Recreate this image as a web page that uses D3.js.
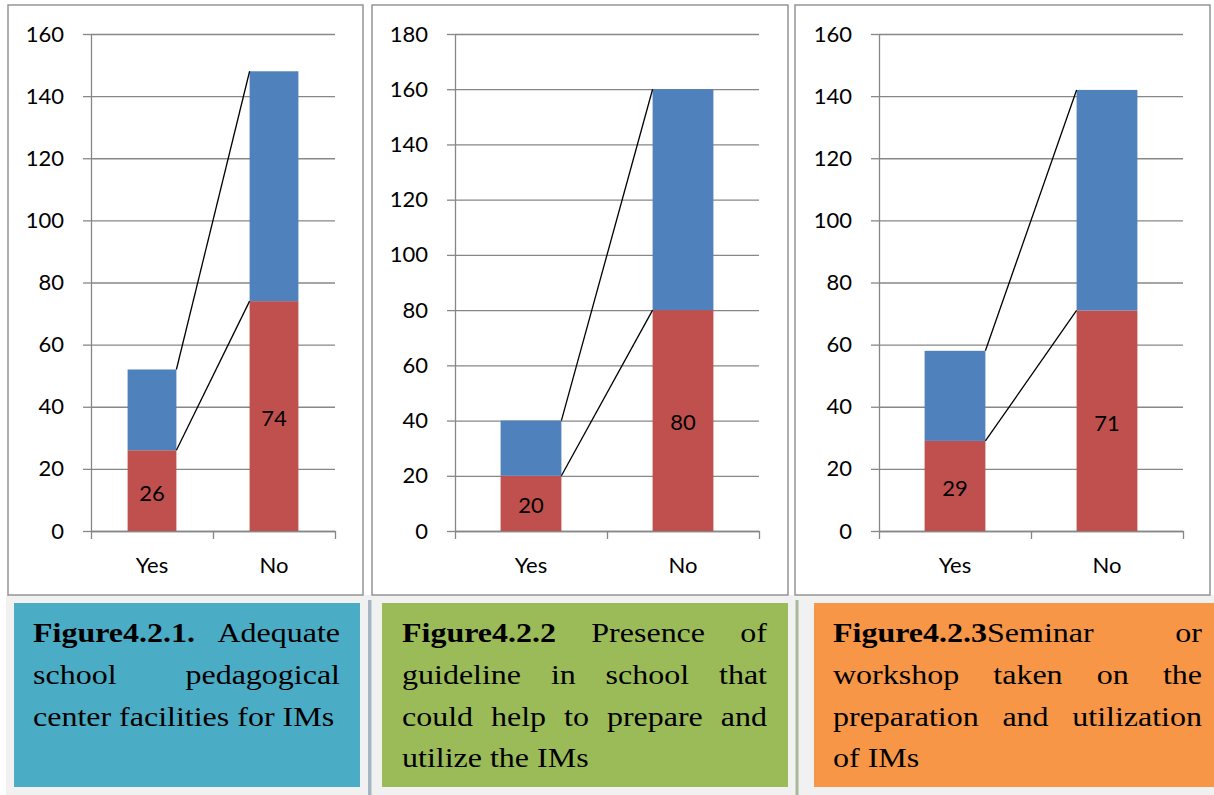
<!DOCTYPE html>
<html>
<head>
<meta charset="utf-8">
<script src="https://cdn.jsdelivr.net/npm/d3@7"></script>
<style>
body { margin: 0; background: #fff; }
.axis text { font-family: Lato, "Open Sans", sans-serif; font-size: 22px; fill: #000; }
.axis path, .axis line { stroke: #878787; stroke-width: 1.3; }
</style>
</head>
<body>
<div id="chart"></div>
<script>
const categories = ["Yes", "No"];
const redValues = [[26, 74], [20, 80], [29, 71]];
const blueValues = [[26, 74], [20, 80], [29, 71]];
const yMaxValues = [160, 180, 160];
const yTickStep = 20;
const boldLabels = ["Figure4.2.1.", "Figure4.2.2", "Figure4.2.3"];
const captionLines = [
    ["Figure4.2.1. Adequate", "school pedagogical", "center facilities for IMs"],
    ["Figure4.2.2 Presence of", "guideline in school that", "could help to prepare and", "utilize the IMs"],
    ["Figure4.2.3Seminar or", "workshop taken on the", "preparation and utilization", "of IMs"]
];
const captionColors = ["#4BACC6", "#9BBB59", "#F79646"];

// where each of the three panels sits on the page
const panels = [
    {frame: [8, 5, 363, 595], axisX: 91, right: 335, box: [14, 603, 360, 787], text: [33, 340]},
    {frame: [372, 5, 788, 595], axisX: 455, right: 759, box: [382, 603, 788, 787], text: [402, 767]},
    {frame: [795, 5, 1210, 595], axisX: 879, right: 1183, box: [814, 603, 1214, 787], text: [833, 1202]}
];
const plotTop = 34, plotBottom = 531;
const captionTop = 642, captionStep = 41.8, captionSize = 32;

const svg = d3.select("#chart").append("svg")
    .attr("width", 1214)
    .attr("height", 795);

svg.append("rect").attr("width", 1214).attr("height", 795).attr("fill", "#fff");

// light grey strip behind the captions
svg.append("rect")
    .attr("x", 6).attr("y", 595).attr("width", 1208).attr("height", 200)
    .attr("fill", "#f1f1f1");

svg.append("rect").attr("x", 368).attr("y", 600).attr("width", 3.5).attr("height", 195).attr("fill", "#a3b6c2");
svg.append("rect").attr("x", 795.5).attr("y", 600).attr("width", 3).attr("height", 195).attr("fill", "#a9b89b");

panels.forEach((p, i) => {
    let [fx0, fy0, fx1, fy1] = p.frame;

    svg.append("rect")
        .attr("x", fx0).attr("y", fy0)
        .attr("width", fx1 - fx0).attr("height", fy1 - fy0)
        .attr("fill", "#fff")
        .attr("stroke", "#8e8e8e")
        .attr("stroke-width", 1.4);

    let w = p.right - p.axisX;
    let g = svg.append("g").attr("transform", `translate(${p.axisX},0)`);

    let rows = categories.map((c, j) => ({cat: c, red: redValues[i][j], blue: blueValues[i][j]}));
    let stacked = d3.stack().keys(["red", "blue"])(rows);

    let x = d3.scaleBand()
        .domain(categories)
        .range([0, w])
        .paddingInner(0.6)
        .paddingOuter(0.3);

    let y = d3.scaleLinear()
        .domain([0, yMaxValues[i]])
        .range([plotBottom, plotTop]);

    let tickVals = d3.range(0, yMaxValues[i] + 1, yTickStep);

    // gridlines
    g.append("g")
        .attr("class", "axis")
        .call(d3.axisLeft(y).tickValues(tickVals).tickSize(-w).tickFormat(""))
        .call(s => s.select(".domain").remove());

    // y axis with labels
    g.append("g")
        .attr("class", "axis")
        .call(d3.axisLeft(y).tickValues(tickVals).tickSize(8).tickSizeOuter(0).tickPadding(19));

    // tick marks between categories
    let xb = d3.scaleLinear().domain([0, categories.length]).range([0, w]);
    g.append("g")
        .attr("class", "axis")
        .attr("transform", `translate(0,${plotBottom})`)
        .call(d3.axisBottom(xb).ticks(categories.length).tickSize(8).tickSizeOuter(0).tickFormat(""));

    g.append("g")
        .attr("class", "axis")
        .attr("transform", `translate(0,${plotBottom})`)
        .call(d3.axisBottom(x).tickSize(0).tickPadding(26))
        .call(s => s.select(".domain").remove());

    let colors = {red: "#C0504D", blue: "#4F81BD"};

    g.selectAll(".layer")
        .data(stacked)
        .join("g")
        .attr("fill", d => colors[d.key])
        .selectAll("rect")
        .data(d => d)
        .join("rect")
        .attr("x", d => x(d.data.cat))
        .attr("y", d => y(d[1]))
        .attr("width", x.bandwidth())
        .attr("height", d => y(d[0]) - y(d[1]));

    // series lines joining the tops of each segment
    stacked.forEach(layer => {
        g.append("line")
            .attr("x1", x(categories[0]) + x.bandwidth())
            .attr("y1", y(layer[0][1]))
            .attr("x2", x(categories[1]))
            .attr("y2", y(layer[1][1]))
            .attr("stroke", "#000")
            .attr("stroke-width", 1.3);
    });

    // value labels on the red segments
    g.selectAll(".val")
        .data(stacked[0])
        .join("text")
        .attr("x", d => x(d.data.cat) + x.bandwidth() / 2)
        .attr("y", d => y((d[0] + d[1]) / 2))
        .attr("dy", "0.45em")
        .attr("text-anchor", "middle")
        .style("font-family", "Lato, 'Open Sans', sans-serif")
        .style("font-size", "22px")
        .text(d => d.data.red);

    // caption box
    let [bx0, by0, bx1, by1] = p.box;
    svg.append("rect")
        .attr("x", bx0).attr("y", by0)
        .attr("width", bx1 - bx0).attr("height", by1 - by0)
        .attr("fill", captionColors[i]);

    let [tx0, tx1] = p.text;
    let lines = captionLines[i];
    lines.forEach((line, li) => {
        let lg = svg.append("g")
            .attr("transform", `translate(${tx0},${captionTop + li * captionStep}) scale(1,0.87)`)
            .style("font-family", "'Liberation Serif', Tinos, 'Times New Roman', Times, serif")
            .style("font-size", captionSize + "px");

        let words = line.split(" ");
        let nodes = words.map((word, wi) => {
            let t = lg.append("text").attr("x", 0).attr("y", 0).attr("fill", "#000");
            if (li === 0 && wi === 0 && word.startsWith(boldLabels[i])) {
                t.append("tspan").style("font-weight", "bold").text(boldLabels[i]);
                let rest = word.slice(boldLabels[i].length);
                if (rest) t.append("tspan").text(rest);
            } else {
                t.text(word);
            }
            return t;
        });

        let widths = nodes.map(t => t.node().getComputedTextLength());
        let total = d3.sum(widths);
        let gap = captionSize * 0.25;
        if (li < lines.length - 1 && words.length > 1) {
            gap = (tx1 - tx0 - total) / (words.length - 1);
        }
        let cx = 0;
        nodes.forEach((t, k) => {
            t.attr("x", cx);
            cx += widths[k] + gap;
        });
    });
});
</script>
</body>
</html>
